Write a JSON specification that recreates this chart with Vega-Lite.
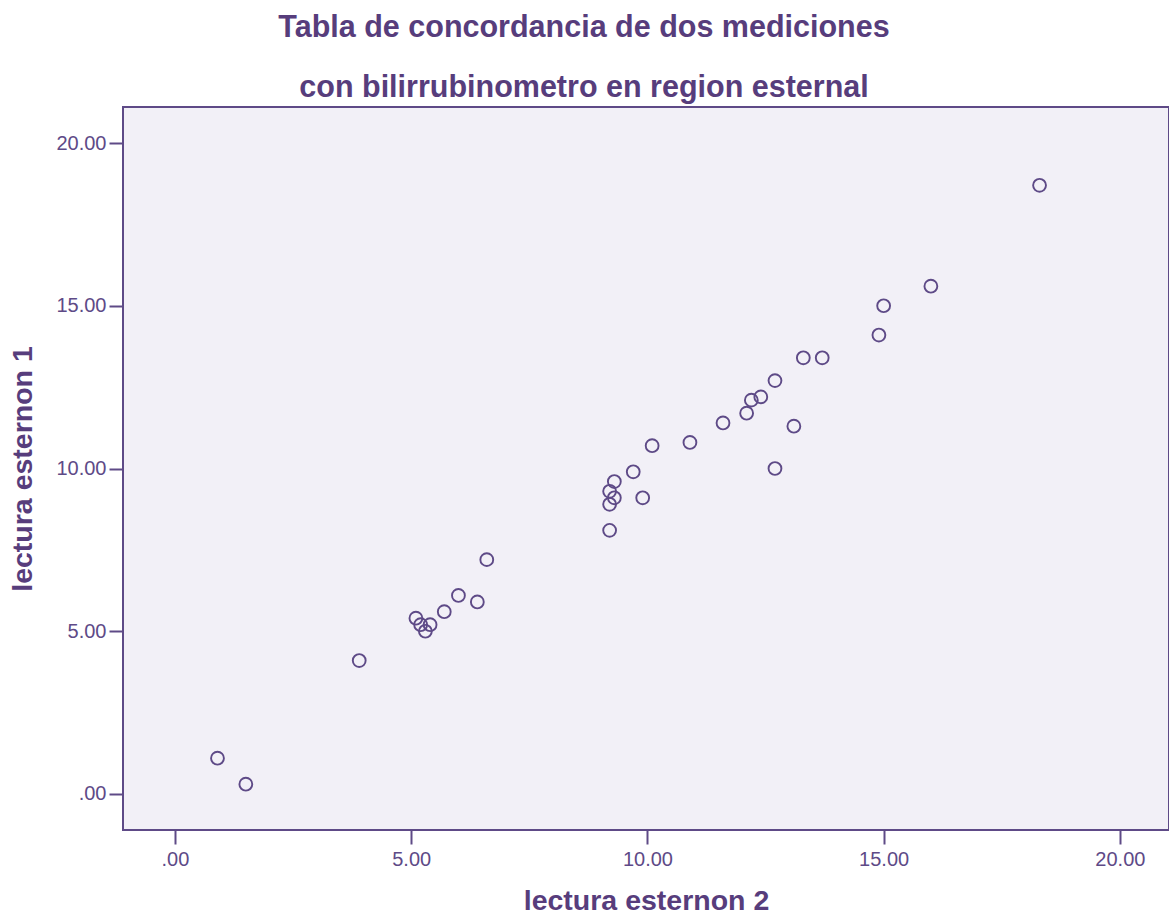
{
  "$schema": "https://vega.github.io/schema/vega-lite/v6.json",
  "autosize": {"type": "none"},
  "width": 1046,
  "height": 723,
  "padding": {"left": 123, "top": 107, "right": 0, "bottom": 85},
  "background": "white",
  "title": {
    "text": ["Tabla de concordancia de dos mediciones", "con bilirrubinometro en region esternal"],
    "anchor": "middle",
    "frame": "group",
    "dx": -62,
    "dy": 32,
    "font": "Liberation Sans",
    "fontSize": 30.5,
    "fontWeight": "bold",
    "color": "#573d7c",
    "lineHeight": 60,
    "baseline": "alphabetic",
    "offset": 12
  },
  "config": {
    "view": {"fill": "#f2f0f7", "stroke": "#5e4a87", "strokeWidth": 2},
    "axis": {
      "domain": false,
      "grid": false,
      "tickColor": "#5e4a87",
      "tickWidth": 2,
      "tickSize": 14,
      "labelFont": "Liberation Sans",
      "labelFontSize": 20,
      "labelColor": "#5e4a87",
      "titleFont": "Liberation Sans",
      "titleFontSize": 28.5,
      "titleFontWeight": "bold",
      "titleColor": "#573d7c"
    }
  },
  "data": {
    "values": [
      {"e2": 0.9, "e1": 1.1},
      {"e2": 1.5, "e1": 0.3},
      {"e2": 3.9, "e1": 4.1},
      {"e2": 5.1, "e1": 5.4},
      {"e2": 5.2, "e1": 5.2},
      {"e2": 5.4, "e1": 5.2},
      {"e2": 5.3, "e1": 5.0},
      {"e2": 5.7, "e1": 5.6},
      {"e2": 6.0, "e1": 6.1},
      {"e2": 6.4, "e1": 5.9},
      {"e2": 6.6, "e1": 7.2},
      {"e2": 9.2, "e1": 8.1},
      {"e2": 9.2, "e1": 8.9},
      {"e2": 9.2, "e1": 9.3},
      {"e2": 9.3, "e1": 9.1},
      {"e2": 9.3, "e1": 9.6},
      {"e2": 9.9, "e1": 9.1},
      {"e2": 9.7, "e1": 9.9},
      {"e2": 10.1, "e1": 10.7},
      {"e2": 10.9, "e1": 10.8},
      {"e2": 11.6, "e1": 11.4},
      {"e2": 12.1, "e1": 11.7},
      {"e2": 12.2, "e1": 12.1},
      {"e2": 12.4, "e1": 12.2},
      {"e2": 12.7, "e1": 12.7},
      {"e2": 13.1, "e1": 11.3},
      {"e2": 12.7, "e1": 10.0},
      {"e2": 13.3, "e1": 13.4},
      {"e2": 13.7, "e1": 13.4},
      {"e2": 14.9, "e1": 14.1},
      {"e2": 15.0, "e1": 15.0},
      {"e2": 16.0, "e1": 15.6},
      {"e2": 18.3, "e1": 18.7}
    ]
  },
  "mark": {"type": "point", "shape": "circle", "filled": false, "size": 165, "strokeWidth": 1.9, "color": "#5e4a87", "opacity": 1},
  "encoding": {
    "x": {
      "field": "e2", "type": "quantitative",
      "scale": {"domain": [-1.1, 21.04], "nice": false, "zero": false},
      "axis": {
        "title": "lectura esternon 2",
        "values": [0, 5, 10, 15, 20],
        "labelExpr": "datum.value == 0 ? '.00' : format(datum.value, '.2f')",
        "labelPadding": 5,
        "titlePadding": 17
      }
    },
    "y": {
      "field": "e1", "type": "quantitative",
      "scale": {"domain": [-1.106, 21.106], "nice": false, "zero": false},
      "axis": {
        "title": "lectura esternon 1",
        "values": [0, 5, 10, 15, 20],
        "labelExpr": "datum.value == 0 ? '.00' : format(datum.value, '.2f')",
        "labelPadding": 3,
        "titlePadding": 18
      }
    }
  }
}
